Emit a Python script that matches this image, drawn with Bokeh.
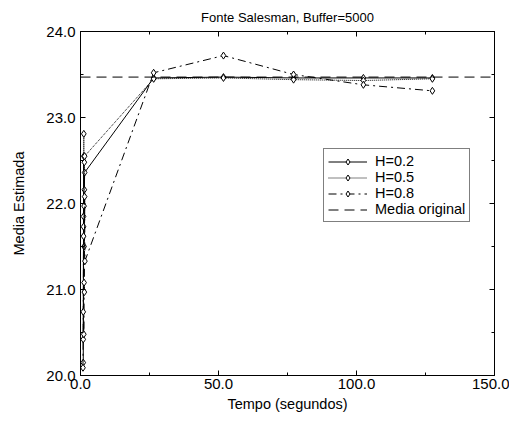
from bokeh.plotting import figure
from bokeh.models import Range1d, LinearAxis, Legend, LegendItem, FixedTicker
from bokeh.embed import file_html
from bokeh.resources import INLINE

# ---- data ----
t_h02 = [1.0, 1.1, 1.2, 1.3, 1.4, 1.5, 26.5, 51.8, 77.2, 102.5, 127.5]
y_h02 = [20.15, 21.85, 22.55, 21.50, 22.16, 22.36, 23.46, 23.47, 23.46, 23.46, 23.46]

t_h05 = [1.0, 1.1, 1.2, 1.3, 1.4, 1.5, 26.5, 51.8, 77.2, 102.5, 127.5]
y_h05 = [20.42, 21.73, 22.81, 21.97, 22.48, 22.55, 23.45, 23.46, 23.44, 23.43, 23.45]

t_h08 = [0.9, 1.0, 1.1, 1.2, 1.3, 1.4, 1.5, 1.6, 26.5, 51.8, 77.2, 102.5, 127.5]
y_h08 = [20.09, 20.74, 21.62, 20.48, 21.08, 20.97, 22.08, 21.33, 23.52, 23.72, 23.50, 23.38, 23.31]

media_original = 23.47

x_ticks = [0, 50, 100, 150]
y_ticks = [20, 21, 22, 23, 24]
X_MIN, X_MAX = 0, 150
Y_MIN, Y_MAX = 20, 24

FONT = "Liberation Sans"

p = figure(frame_width=414, frame_height=344, output_backend="svg",
           toolbar_location=None, x_range=Range1d(X_MIN, X_MAX),
           y_range=Range1d(Y_MIN, Y_MAX), title="Fonte Salesman, Buffer=5000",
           min_border_left=80, min_border_top=15, min_border_right=15,
           min_border_bottom=10)

p.title.align = "center"
p.title.text_font = FONT
p.title.text_font_size = "13px"
p.title.text_font_style = "normal"
p.title.text_color = "black"
p.title.offset = 0
p.title.standoff = 14

p.grid.visible = False
p.outline_line_color = "black"
p.outline_line_width = 1
p.background_fill_color = "white"
p.border_fill_color = "white"

def style_axis(ax, ticks, show_labels=True):
    ax.ticker = FixedTicker(ticks=ticks,
                            minor_ticks=[ticks[i] + (ticks[1] - ticks[0]) / 2 for i in range(len(ticks) - 1)])
    ax.major_tick_in = 5
    ax.major_tick_out = 0
    ax.minor_tick_in = 3
    ax.minor_tick_out = 0
    ax.axis_line_color = "black"
    ax.major_tick_line_color = "black"
    ax.minor_tick_line_color = "black"
    ax.major_label_text_font = FONT
    ax.major_label_text_font_size = "15px"
    ax.major_label_text_color = "black"
    ax.axis_label_text_font = FONT
    ax.axis_label_text_font_size = "14.5px"
    ax.axis_label_text_font_style = "normal"
    ax.axis_label_text_color = "black"
    if not show_labels:
        ax.major_label_overrides = {v: "" for v in ticks}
        ax.major_label_standoff = 0

style_axis(p.xaxis[0], x_ticks)
style_axis(p.yaxis[0], y_ticks)
p.xaxis[0].axis_label = "Tempo (segundos)"
p.yaxis[0].axis_label = "Media Estimada"
p.xaxis[0].major_label_overrides = {v: f"{v:.1f}" for v in x_ticks}
p.yaxis[0].major_label_overrides = {v: f"{v:.1f}" for v in y_ticks}
p.xaxis[0].major_label_standoff = 3
p.yaxis[0].major_label_standoff = 5
p.xaxis[0].axis_label_standoff = 4
p.yaxis[0].axis_label_standoff = 16

top = LinearAxis()
right = LinearAxis()
style_axis(top, x_ticks, show_labels=False)
style_axis(right, y_ticks, show_labels=False)
p.add_layout(top, "above")
p.add_layout(right, "right")

# data
r02l = p.line(t_h02, y_h02, line_color="black", line_width=1)
r02m = p.scatter(t_h02, y_h02, marker="diamond", size=7, fill_color="white",
                 line_color="black", line_width=1)
r05l = p.line(t_h05, y_h05, line_color="black", line_width=1, line_dash="1 1")
r05m = p.scatter(t_h05, y_h05, marker="diamond", size=7, fill_color="white",
                 line_color="black", line_width=1)
r08l = p.line(t_h08, y_h08, line_color="black", line_width=1, line_dash="8 4 2 4")
r08m = p.scatter(t_h08, y_h08, marker="diamond", size=7, fill_color="white",
                 line_color="black", line_width=1)
rmed = p.line([X_MIN, X_MAX], [media_original, media_original], line_color="black",
              line_width=1, line_dash="10 6")

legend = Legend(items=[
    LegendItem(label="H=0.2", renderers=[r02l, r02m]),
    LegendItem(label="H=0.5", renderers=[r05l, r05m]),
    LegendItem(label="H=0.8", renderers=[r08l, r08m]),
    LegendItem(label="Media original", renderers=[rmed]),
], location=(243, 153))
legend.border_line_color = "black"
legend.border_line_width = 1
legend.background_fill_alpha = 1
legend.label_text_font = FONT
legend.label_text_font_size = "14.5px"
legend.label_text_color = "black"
legend.label_text_line_height = 1.0
legend.glyph_width = 39
legend.glyph_height = 15
legend.label_height = 15
legend.label_standoff = 8
legend.spacing = 0
legend.padding = 4
legend.margin = 0
p.add_layout(legend, "center")

open("out.html", "w").write(file_html(p, INLINE))
